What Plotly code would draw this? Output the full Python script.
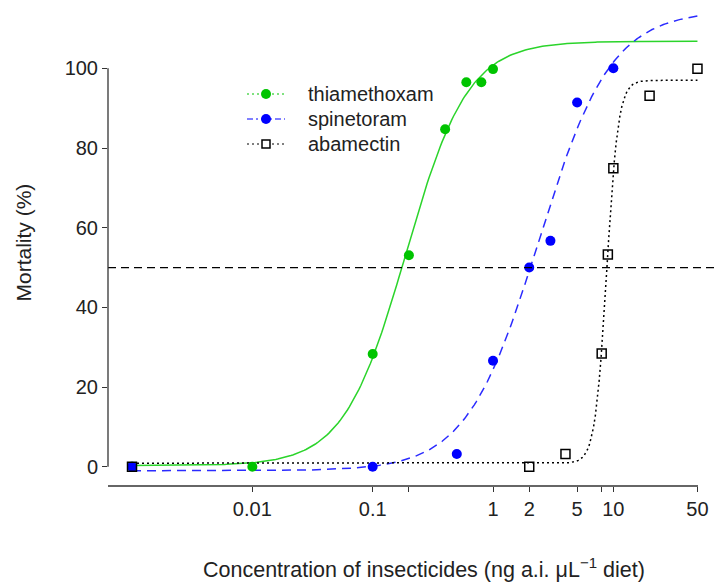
import numpy as np
import plotly.graph_objects as go

thia_conc = [0.001, 0.01, 0.1, 0.2, 0.4, 0.6, 0.8, 1.0]
thia_mort = [0.0, 0.0, 28.3, 53.1, 84.7, 96.5, 96.5, 99.8]

spin_conc = [0.001, 0.1, 0.5, 1.0, 2.0, 3.0, 5.0, 10.0]
spin_mort = [0.0, 0.0, 3.2, 26.6, 50.0, 56.7, 91.4, 100.0]

abam_conc = [0.001, 2.0, 4.0, 8.0, 9.0, 10.0, 20.0, 50.0]
abam_mort = [0.0, 0.0, 3.2, 28.4, 53.3, 74.9, 93.1, 99.9]

# ---- fitted log-logistic curve parameters: (slope b, lower c, upper d, ED50 e) ----
thia_fit = (1.69, 0.3, 106.8, 0.189)
spin_fit = (1.45, -1.0, 114.5, 2.40)
abam_fit = (9.0, 0.9, 97.0, 8.8)

x_ticks = [0.01, 0.1, 1, 2, 5, 10, 50]
x_ticklabels = ["0.01", "0.1", "1", "2", "5", "10", "50"]
x_minor_ticks = [0.2, 8]
y_ticks = [0, 20, 40, 60, 80, 100]

names = ["thiamethoxam", "spinetoram", "abamectin"]
x_title = "Concentration of insecticides (ng a.i. \u03bcL<sup>\u22121</sup> diet)"
y_title = "Mortality (%)"


def ll4(x, p):
    b, c, d, e = p
    x = np.asarray(x, dtype=float)
    return c + (d - c) / (1.0 + (x / e) ** (-b))


xs = np.logspace(-3, np.log10(50), 300)

GREEN_M = "#00C400"
GREEN_L = "#2BD42B"
BLUE = "#0000FF"
BLUE_L = "#2B2BFF"
BLACK = "#000000"
TXT = "#222222"
FONT = "Liberation Sans, Arial, sans-serif"

# plot-area geometry (pixels) used for placing legend / titles
L, R, T, B = 108, 0, 0, 97
PW, PH = 716 - L - R, 583 - T - B


def px(xp):
    return (xp - L) / PW


def py(yp):
    return 1 - (yp - T) / PH


fig = go.Figure()

# fitted curves
fig.add_trace(go.Scatter(x=xs, y=ll4(xs, thia_fit), mode="lines", name=names[0] + " fit",
                         line=dict(color=GREEN_L, width=1.5), showlegend=False, hoverinfo="skip"))
fig.add_trace(go.Scatter(x=xs, y=ll4(xs, spin_fit), mode="lines", name=names[1] + " fit",
                         line=dict(color=BLUE_L, width=1.5, dash="9px,6px"), showlegend=False, hoverinfo="skip"))
fig.add_trace(go.Scatter(x=xs, y=ll4(xs, abam_fit), mode="lines", name=names[2] + " fit",
                         line=dict(color=BLACK, width=1.5, dash="2px,3px"), showlegend=False, hoverinfo="skip"))

# observed points
fig.add_trace(go.Scatter(x=thia_conc, y=thia_mort, mode="markers", name=names[0],
                         marker=dict(color=GREEN_M, size=10, symbol="circle"), showlegend=False))
fig.add_trace(go.Scatter(x=spin_conc, y=spin_mort, mode="markers", name=names[1],
                         marker=dict(color=BLUE, size=10, symbol="circle"), showlegend=False))
fig.add_trace(go.Scatter(x=abam_conc, y=abam_mort, mode="markers", name=names[2],
                         marker=dict(color=BLACK, size=9, symbol="square-open", line=dict(width=1.5)),
                         showlegend=False))

# 50% reference line across plot
fig.add_shape(type="line", xref="paper", yref="y", x0=0, x1=1, y0=50, y1=50,
              line=dict(color=BLACK, width=1.3, dash="8px,5px"))
# axis lines (R style: y from 0 to 100, x from left edge to last tick)
fig.add_shape(type="line", xref="paper", yref="y", x0=0, x1=0, y0=0, y1=100,
              line=dict(color="#333333", width=1.3))
fig.add_shape(type="line", xref="paper", yref="paper", x0=0, x1=px(698), y0=0, y1=0,
              line=dict(color="#333333", width=1.3))

# ---- legend (R-style box-less legend) ----
leg_rows = [94, 119, 144]
leg_styles = [
    (GREEN_M, "2px,3px", "circle"),
    (BLUE, "6px,3px,2px,3px", "circle"),
    (BLACK, "2px,3px", "square"),
]
for name, yrow, (col, dash, sym) in zip(names, leg_rows, leg_styles):
    fig.add_shape(type="line", xref="paper", yref="paper", x0=px(247), x1=px(285),
                  y0=py(yrow), y1=py(yrow), line=dict(color=col, width=1, dash=dash))
    if sym == "circle":
        fig.add_shape(type="circle", xref="paper", yref="paper",
                      xsizemode="pixel", ysizemode="pixel",
                      xanchor=px(266), yanchor=py(yrow), x0=-5, x1=5, y0=-5, y1=5,
                      fillcolor=col, line=dict(color=col, width=0))
    else:
        fig.add_shape(type="rect", xref="paper", yref="paper",
                      xsizemode="pixel", ysizemode="pixel",
                      xanchor=px(266), yanchor=py(yrow), x0=-4, x1=4, y0=-4, y1=4,
                      fillcolor="white", line=dict(color=col, width=1.5))
    fig.add_annotation(text=name, xref="paper", yref="paper", x=px(306), y=py(yrow),
                       xanchor="left", yanchor="middle", showarrow=False,
                       font=dict(size=20, family=FONT, color=TXT))

fig.update_layout(
    width=716, height=583,
    margin=dict(l=L, r=R, t=T, b=B),
    paper_bgcolor="white", plot_bgcolor="white",
    font=dict(family=FONT, size=20, color=TXT),
    showlegend=False,
    xaxis=dict(type="log", range=[-3.1995, 1.853], tickvals=x_ticks, ticktext=x_ticklabels,
               ticks="outside", ticklen=5, tickwidth=1.3, tickcolor="#333333",
               minor=dict(tickvals=x_minor_ticks, ticks="outside", ticklen=5, tickwidth=1.3,
                          tickcolor="#333333", showgrid=False),
               showgrid=False, zeroline=False, showline=False,
               tickfont=dict(size=20, family=FONT, color=TXT)),
    yaxis=dict(range=[-4.82, 117.14], tickvals=y_ticks,
               ticks="outside", ticklen=5, tickwidth=1.3, tickcolor="#333333",
               showgrid=False, zeroline=False, showline=False,
               tickfont=dict(size=20, family=FONT, color=TXT)),
)

fig.add_annotation(text=x_title, xref="paper", yref="paper", x=px(423.5), y=py(568),
                   xanchor="center", yanchor="middle", showarrow=False,
                   font=dict(size=21.5, family=FONT, color=TXT))
fig.add_annotation(text=y_title, textangle=-90, xref="paper", yref="paper", x=px(23), y=py(242.5),
                   xanchor="center", yanchor="middle", showarrow=False,
                   font=dict(size=21, family=FONT, color=TXT))

fig.write_html("out.html")
